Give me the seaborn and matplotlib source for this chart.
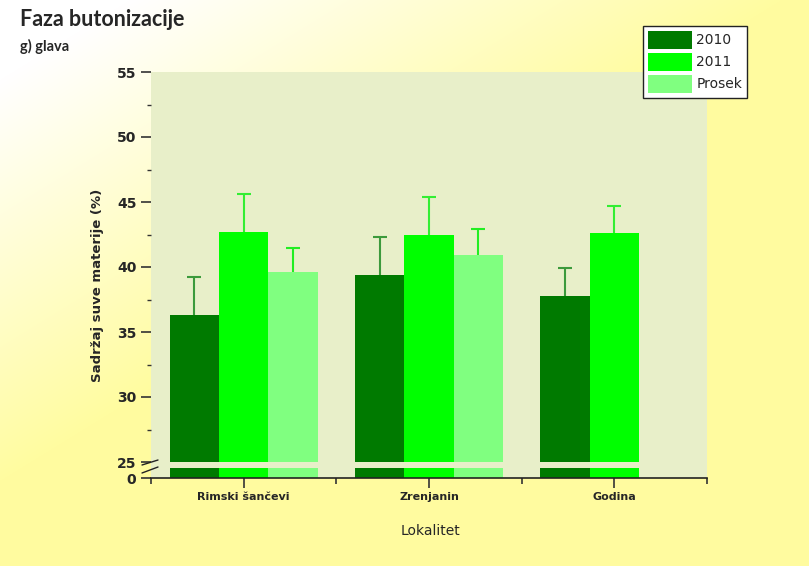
import numpy as np
import pandas as pd
import matplotlib
matplotlib.use("Agg")
import matplotlib.pyplot as plt
from matplotlib.lines import Line2D
from matplotlib.ticker import MultipleLocator, FixedLocator
import seaborn as sns

# Chart data
locations = ["Rimski šančevi", "Zrenjanin", "Godina"]
series = ["2010", "2011", "Prosek"]
vals_2010 = [36.3, 39.4, 37.8]
vals_2011 = [42.7, 42.5, 42.6]
vals_prosek = [39.6, 40.9, np.nan]
err_2010 = [2.9, 2.9, 2.1]
err_2011 = [2.9, 2.9, 2.1]
err_prosek = [1.9, 2.0, np.nan]

bar_colors = ["#007a00", "#00ff00", "#80ff80"]
err_colors = ["#3c9a3c", "#33ee33", "#22ee22"]

rows = []
for s, vals in zip(series, [vals_2010, vals_2011, vals_prosek]):
    for loc, v in zip(locations, vals):
        rows.append({"Lokalitet": loc, "Serija": s, "Vrednost": v})
df = pd.DataFrame(rows)
errs = {"2010": err_2010, "2011": err_2011, "Prosek": err_prosek}

sns.set_style("white")
plt.rcParams["font.family"] = ["DejaVu Sans"]

W, H = 809, 566
fig = plt.figure(figsize=(W / 100, H / 100), dpi=100)

# background gradient: white top-left to yellow
bg = fig.add_axes([0, 0, 1, 1], zorder=-10)
yy, xx = np.mgrid[0:H, 0:W]
t = np.clip(xx / 650.0 + yy / 400.0 - 0.2, 0, 1)
img = np.ones((H, W, 3))
img[..., 2] = 1 - t * (95 / 255)
img[..., 1] = 1 - t * (3 / 255)
bg.imshow(img, aspect="auto", extent=[0, 1, 0, 1], origin="upper")
bg.axis("off")

L, R = 151 / W, 707 / W
plot_bg = fig.add_axes([L, 1 - 478 / H, R - L, (478 - 72) / H], zorder=-5)
plot_bg.set_facecolor("#e8efc9")
plot_bg.set_xticks([])
plot_bg.set_yticks([])
for sp in plot_bg.spines.values():
    sp.set_visible(False)

ax = fig.add_axes([L, 1 - 462 / H, R - L, (462 - 72) / H])
ax_lo = fig.add_axes([L, 1 - 478 / H, R - L, 10 / H])

for a in (ax, ax_lo):
    sns.barplot(data=df, x="Lokalitet", y="Vrednost", hue="Serija",
                order=locations, hue_order=series, palette=bar_colors,
                width=0.8, errorbar=None, saturation=1, ax=a, legend=(a is ax),
                edgecolor="none")
    a.patch.set_alpha(0)
    a.set_xlim(-0.5, 2.5)
    a.set_xlabel("")
    a.set_ylabel("")
    for sp in a.spines.values():
        sp.set_visible(False)

# one-sided (upper) error bars
for cont, s, ec in zip(ax.containers, series, err_colors):
    ev = [e for e in errs[s] if not np.isnan(e)]
    for p, e in zip(cont.patches, ev):
        if np.isnan(p.get_height()):
            continue
        _, caps, _ = ax.errorbar(p.get_x() + p.get_width() / 2, p.get_height(),
                                 yerr=[[0], [e]], fmt="none", ecolor=ec,
                                 elinewidth=1.5, capsize=5, capthick=1.5)
        caps[0].set_visible(False)

ax.set_ylim(25, 55)
ax.yaxis.set_major_locator(MultipleLocator(5))
ax.yaxis.set_minor_locator(MultipleLocator(2.5))
ax.tick_params(axis="y", which="major", direction="out", length=7, width=1.2,
               color="#333333", left=True, labelsize=10)
ax.tick_params(axis="y", which="minor", direction="out", length=3, width=1,
               color="#333333", left=True)
ax.set_xticks([])
for lbl in ax.get_yticklabels():
    lbl.set_fontweight("bold")

ax_lo.set_ylim(0, 1)
ax_lo.set_yticks([0])
ax_lo.spines["bottom"].set_visible(True)
ax_lo.spines["bottom"].set_color("#222222")
ax_lo.spines["bottom"].set_linewidth(1.2)
ax_lo.tick_params(axis="y", direction="out", length=7, width=1.2,
                  color="#333333", left=True, labelsize=10)
ax_lo.xaxis.set_minor_locator(FixedLocator([-0.5, 0.5, 1.5, 2.5]))
ax_lo.tick_params(axis="x", which="major", direction="out", length=7, width=1.2,
                  color="#333333", bottom=True, labelsize=8, pad=3)
ax_lo.tick_params(axis="x", which="minor", direction="out", length=4, width=1.2,
                  color="#333333", bottom=True)
for lbl in ax_lo.get_yticklabels() + ax_lo.get_xticklabels():
    lbl.set_fontweight("bold")

# axis break marks
for (x0, y0, x1, y1) in [(142, 465, 158, 460), (142, 473, 158, 467)]:
    fig.add_artist(Line2D([x0 / W, x1 / W], [1 - y0 / H, 1 - y1 / H],
                          color="#222222", lw=1.0, transform=fig.transFigure))

fig.text(98 / W, 1 - 285 / H, "Sadržaj suve materije (%)", rotation=90,
         ha="center", va="center", fontsize=9.5, fontweight="bold")
fig.text(430 / W, 1 - 531 / H, "Lokalitet", ha="center", va="center",
         fontsize=10)
fig.text(20 / W, 1 - 19 / H, "Faza butonizacije", ha="left", va="center",
         fontsize=15.5, fontweight="bold", family=["Lato", "DejaVu Sans"])
fig.text(20 / W, 1 - 46 / H, "g) glava", ha="left", va="center",
         fontsize=10.5, fontweight="bold", family=["Lato", "DejaVu Sans"])

leg = ax.get_legend()
handles = leg.legend_handles
leg.remove()
fig.legend(handles, series, loc="upper left",
           bbox_to_anchor=(643 / W, 1 - 26 / H), frameon=True, fancybox=False,
           edgecolor="#222222", facecolor="white", framealpha=1,
           fontsize=10, handlelength=3.2, handleheight=1.6,
           borderpad=0.35, labelspacing=0.3, handletextpad=0.3,
           borderaxespad=0)

fig.savefig("out.png", dpi=100)
